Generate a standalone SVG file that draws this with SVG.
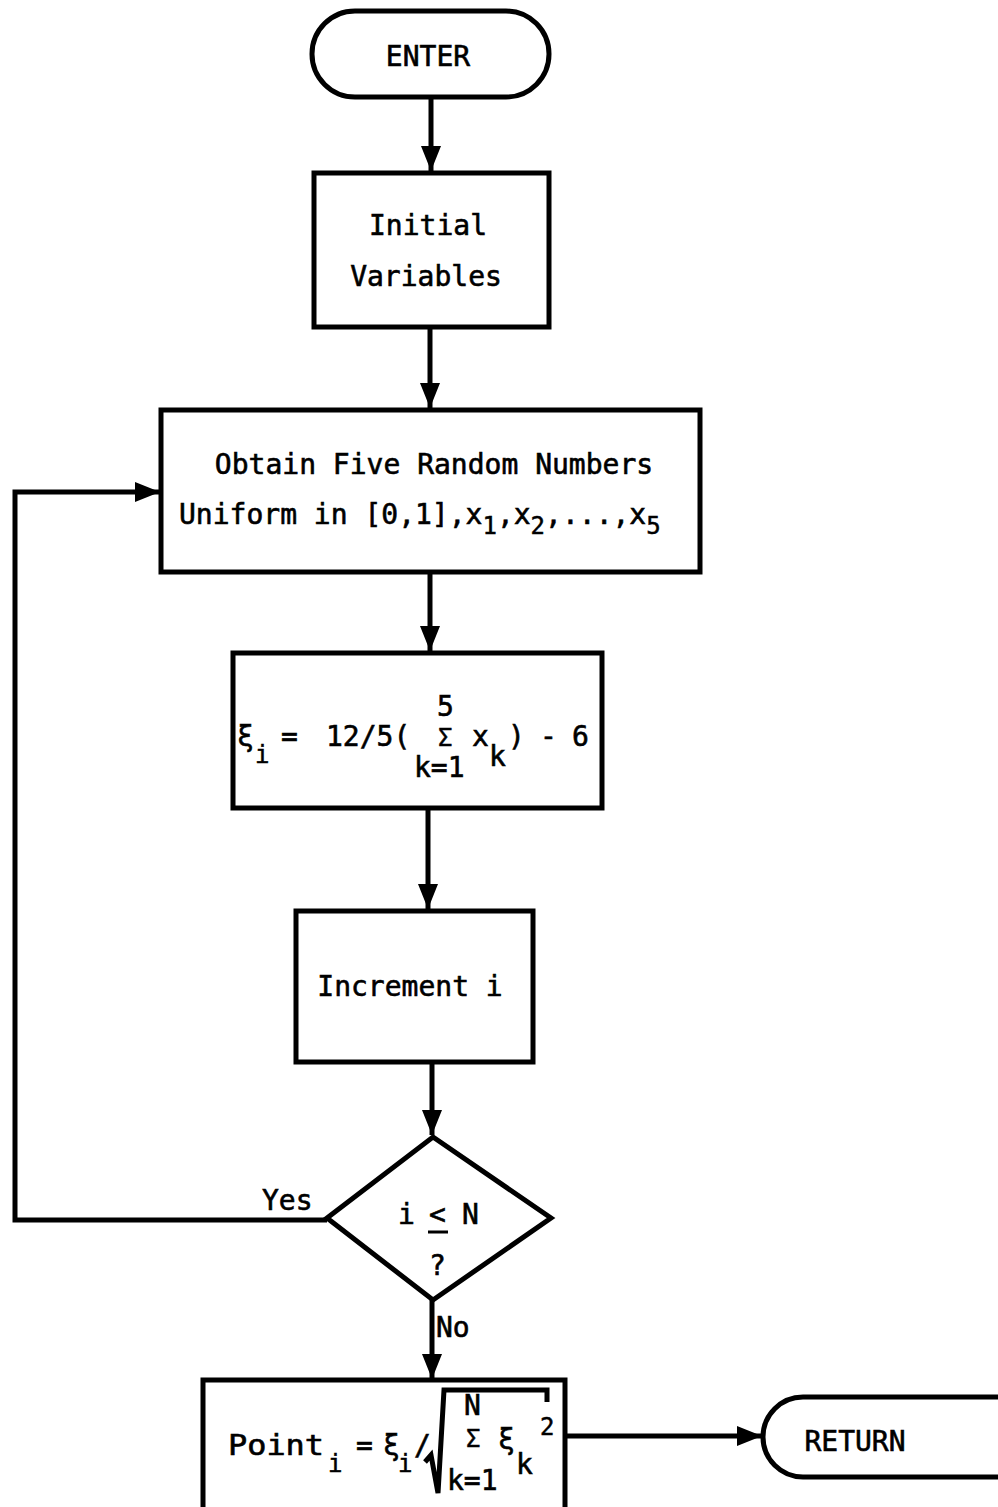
<svg xmlns="http://www.w3.org/2000/svg" width="998" height="1507" viewBox="0 0 998 1507">
<style>
.s{fill:none;stroke:#000;stroke-width:5}
.t{font-family:"DejaVu Sans Mono","Liberation Mono",monospace;font-size:28px;fill:#000;stroke:#000;stroke-width:0.6}
.m{font-family:"DejaVu Sans Mono","Liberation Mono",monospace;font-size:24px;fill:#000;stroke:#000;stroke-width:0.5}
.c{stroke:#000;stroke-width:5;fill:none}
</style>
<defs>
<marker id="a" markerWidth="6" markerHeight="5" refX="5" refY="2" orient="auto" markerUnits="strokeWidth">
<path d="M0,0 L5,2 L0,4 Z" fill="#000"/>
</marker>
</defs>
<rect width="998" height="1507" fill="#fff"/>
<g id="connectors">
<line class="c" x1="431" y1="97" x2="431" y2="171" marker-end="url(#a)"/>
<line class="c" x1="430" y1="327" x2="430" y2="408" marker-end="url(#a)"/>
<line class="c" x1="430" y1="572" x2="430" y2="651" marker-end="url(#a)"/>
<line class="c" x1="428" y1="808" x2="428" y2="909" marker-end="url(#a)"/>
<line class="c" x1="432" y1="1062" x2="432" y2="1135" marker-end="url(#a)"/>
<line class="c" x1="432" y1="1300" x2="432" y2="1379" marker-end="url(#a)"/>
<polyline class="c" points="327,1220 15,1220 15,492 160,492" marker-end="url(#a)"/>
<line class="c" x1="565" y1="1436" x2="762" y2="1436" marker-end="url(#a)"/>
<text class="t" x="262" y="1210">Yes</text>
<text class="t" x="436" y="1337">No</text>
</g>
<g id="enter">
<rect class="s" x="312" y="11" width="237" height="86" rx="43"/>
<text class="t" x="428" y="66" text-anchor="middle">ENTER</text>
</g>
<g id="init">
<rect class="s" x="314" y="173" width="235" height="154"/>
<text class="t" x="428" y="235" text-anchor="middle">Initial</text>
<text class="t" x="426" y="286" text-anchor="middle">Variables</text>
</g>
<g id="obtain">
<rect class="s" x="161" y="410" width="539" height="162"/>
<text class="t" x="434" y="474" text-anchor="middle">Obtain Five Random Numbers</text>
<text class="t" x="179" y="524">Uniform in [0,1],x<tspan class="m" dy="10">1</tspan><tspan dy="-10">,x</tspan><tspan class="m" dy="10">2</tspan><tspan dy="-10">,...,x</tspan><tspan class="m" dy="10">5</tspan></text>
</g>
<g id="xi">
<rect class="s" x="233" y="653" width="369" height="155"/>
<text class="t" x="237" y="746">ξ</text>
<text class="m" x="255" y="763">i</text>
<text class="t" x="281" y="746">=</text>
<text class="t" x="326" y="746">12/5(</text>
<text class="t" x="437" y="716">5</text>
<text class="m" x="438" y="746">Σ</text>
<text class="t" x="414" y="777">k=1</text>
<text class="t" x="472" y="746">x</text>
<text class="t" x="489" y="766">k</text>
<text class="t" x="508" y="746">)</text>
<text class="t" x="540" y="746">-</text>
<text class="t" x="572" y="746">6</text>
</g>
<g id="increment">
<rect class="s" x="296" y="911" width="237" height="151"/>
<text class="t" x="410" y="996" text-anchor="middle">Increment i</text>
</g>
<g id="decision">
<polygon class="s" points="433,1137 551,1218 433,1300 327,1218"/>
<text class="t" x="398" y="1224">i</text>
<text class="t" x="429" y="1224">&lt;</text>
<line x1="428" y1="1232" x2="448" y2="1232" stroke="#000" stroke-width="3"/>
<text class="t" x="462" y="1224">N</text>
<text class="t" x="429" y="1275">?</text>
</g>
<g id="point">
<rect class="s" x="203" y="1380" width="362" height="130"/>
<text class="t" x="228" y="1455" textLength="96" lengthAdjust="spacingAndGlyphs">Point</text>
<text class="m" x="328" y="1472">i</text>
<text class="t" x="356" y="1455">=</text>
<text class="t" x="383" y="1455">ξ</text>
<text class="m" x="398" y="1472">i</text>
<text class="t" x="414" y="1455">/</text>
<path d="M425,1462 L431,1455 L438,1493 L444,1390 L547,1390 L547,1402" fill="none" stroke="#000" stroke-width="5"/>
<text class="t" x="464" y="1415">N</text>
<text class="m" x="466" y="1447">Σ</text>
<text class="t" x="447" y="1490">k=1</text>
<text class="t" x="498" y="1449">ξ</text>
<text class="t" x="516" y="1474">k</text>
<text class="m" x="540" y="1435">2</text>
</g>
<g id="return">
<path class="s" d="M803,1397 L1010,1397 L1010,1477 L803,1477 A40,40 0 0 1 803,1397 Z"/>
<text class="t" x="855" y="1451" text-anchor="middle">RETURN</text>
</g>
</svg>
